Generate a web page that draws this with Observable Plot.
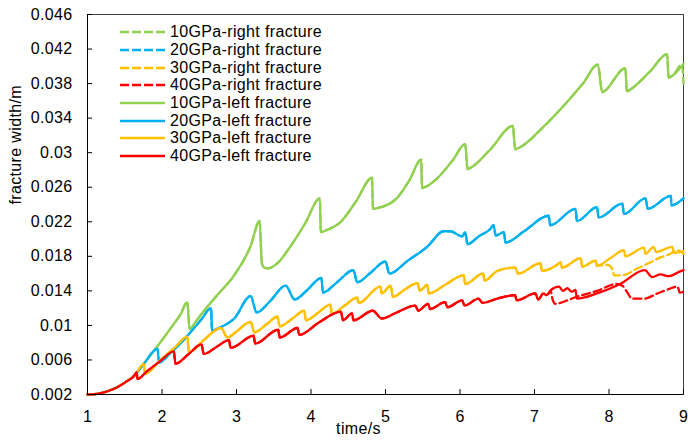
<!DOCTYPE html>
<html>
<head>
<meta charset="utf-8">
<script src="https://cdn.jsdelivr.net/npm/d3@7"></script>
<script src="https://cdn.jsdelivr.net/npm/@observablehq/plot@0.6"></script>
<style>
  body { margin: 0; background: #fff; }
  #wrap { position: relative; width: 688px; height: 444px; font-family: "Liberation Sans", Arial, sans-serif; }
  #wrap svg text { letter-spacing: 0.35px; }
  #legend { position: absolute; left: 120px; top: 23.5px; font-size: 16px; letter-spacing: 0.35px; color: #000; }
  .row { display: flex; align-items: center; height: 17.7px; white-space: nowrap; }
  .row svg { margin-right: 5px; }
</style>
</head>
<body>
<div id="wrap"><div id="legend"></div></div>
<script>
// ---- data (time in s, fracture width in m) ----
const xTicks = [1, 2, 3, 4, 5, 6, 7, 8, 9];
const yTicks = [0.002, 0.006, 0.01, 0.014, 0.018, 0.022, 0.026, 0.03, 0.034, 0.038, 0.042, 0.046];

const commonStart = [[1.00,.00200],[1.13,.00208],[1.27,.00238],[1.40,.00285],[1.54,.00360],[1.63,.00420]];

const left10 = [[1.76,.0056],[1.94,.0076],[2.11,.0096],[2.25,.0113],[2.34,.0127],[2.37,.0096],[2.45,.0104],[2.52,.0112],[2.74,.0135],[2.96,.0157],[3.19,.0192],[3.31,.0221],[3.34,.0172],[3.37,.0167],[3.42,.0166],[3.55,.0172],[3.72,.0191],[3.92,.0218],[4.12,.0247],[4.13,.0208],[4.20,.0210],[4.40,.0220],[4.60,.0243],[4.82,.0271],[4.83,.0235],[4.90,.0236],[5.16,.0248],[5.32,.0268],[5.48,.0292],[5.49,.0259],[5.55,.0261],[5.69,.0270],[5.90,.0291],[6.07,.0310],[6.10,.0281],[6.15,.0283],[6.41,.0304],[6.71,.0331],[6.74,.0304],[6.80,.0306],[7.12,.0330],[7.44,.0359],[7.65,.0380],[7.85,.0402],[7.91,.0370],[7.95,.0372],[8.22,.0398],[8.24,.0371],[8.30,.0374],[8.55,.0394],[8.78,.0414],[8.80,.0387],[8.85,.0389],[9.00,.0403]];
const right10End = [[8.98,.0402],[9.00,.0380]];

const left20 = [[1.76,.0056],[1.94,.0073],[1.96,.0057],[2.10,.0067],[2.20,.0075],[2.34,.0088],[2.52,.0106],[2.66,.0120],[2.67,.0094],[2.79,.0098],[2.97,.0108],[3.19,.0134],[3.27,.0115],[3.45,.0128],[3.66,.0146],[3.78,.0130],[3.95,.0141],[4.14,.0155],[4.16,.0138],[4.35,.0150],[4.57,.0164],[4.62,.0150],[4.80,.0161],[5.00,.0174],[5.05,.0160],[5.30,.0175],[5.56,.0191],[5.78,.0209],[5.87,.0209],[6.03,.0203],[6.07,.0208],[6.10,.0194],[6.25,.0203],[6.41,.0212],[6.45,.0216],[6.48,.0204],[6.59,.0208],[6.61,.0196],[6.86,.0209],[7.19,.0227],[7.21,.0216],[7.55,.0235],[7.57,.0221],[7.84,.0237],[7.86,.0225],[8.18,.0241],[8.20,.0229],[8.49,.0247],[8.52,.0235],[8.83,.0250],[8.84,.0239],[9.00,.0247]];

const left30 = [[1.76,.00555],[1.77,.0044],[1.98,.0060],[2.10,.0069],[2.18,.0075],[2.34,.0087],[2.36,.0069],[2.56,.0083],[2.79,.0097],[2.88,.0086],[3.00,.0093],[3.19,.0104],[3.24,.0092],[3.40,.0101],[3.55,.0110],[3.58,.0099],[3.75,.0108],[3.91,.0117],[3.93,.0106],[4.10,.0115],[4.26,.0124],[4.28,.0113],[4.45,.0123],[4.62,.0132],[4.64,.0126],[4.93,.0145],[4.95,.0137],[5.07,.0146],[5.10,.0133],[5.25,.0141],[5.43,.0149],[5.46,.0140],[5.56,.0147],[5.58,.0137],[5.80,.0147],[6.05,.0158],[6.07,.0148],[6.31,.0160],[6.33,.0152],[6.50,.0163],[6.74,.0167],[6.78,.0160],[7.08,.0172],[7.10,.0163],[7.30,.0170],[7.35,.0173],[7.37,.0167],[7.62,.0178],[7.64,.0168],[7.82,.0175],[7.84,.0169]];
const left30End = [[8.02,.0178],[8.20,.0187],[8.22,.0180],[8.47,.0190],[8.49,.0183],[8.60,.0191],[8.63,.0185],[8.85,.0191],[8.87,.0184],[9.00,.0186]];
const right30End = [[7.98,.0170],[8.04,.0166],[8.07,.0158],[8.18,.0158],[8.36,.0165],[8.53,.0172],[8.70,.0179],[8.80,.0182],[8.92,.0187],[9.00,.0183]];

const left40 = [[1.66,.0046],[1.67,.0038],[1.80,.0047],[1.98,.0059],[2.16,.0070],[2.18,.00555],[2.36,.0067],[2.53,.0078],[2.56,.0067],[2.73,.0075],[2.90,.0083],[2.92,.0074],[3.23,.0088],[3.25,.0079],[3.56,.0095],[3.58,.0086],[3.82,.0097],[3.84,.0089],[4.10,.0103],[4.40,.0116],[4.43,.0106],[4.55,.0114],[4.57,.0106],[4.83,.0117],[4.95,.0108],[5.15,.0115],[5.40,.0123],[5.44,.0117],[5.57,.0125],[5.60,.0119],[5.80,.0127],[5.83,.0121],[6.03,.0129],[6.06,.0123],[6.25,.0131],[6.30,.0126],[6.50,.0131],[6.74,.0135],[6.76,.0129],[7.01,.0137],[7.05,.0130],[7.12,.0137],[7.16,.0135]];
const left40End = [[7.22,.0141],[7.33,.0145],[7.38,.0140],[7.44,.0143],[7.50,.0139],[7.55,.0141],[7.57,.0131],[7.84,.0137],[8.15,.0148],[8.48,.0164],[8.58,.0156],[8.69,.0159],[8.80,.0157],[8.94,.0162],[9.00,.0164]];
const right40End = [[7.22,.0139],[7.24,.0131],[7.28,.0125],[7.44,.0129],[7.53,.0132],[7.84,.0140],[8.10,.0148],[8.18,.0146],[8.24,.0139],[8.31,.0131],[8.47,.0131],[8.65,.0137],[8.80,.0142],[8.92,.0145],[8.95,.0138],[9.00,.0139]];

const colors = { g10: "#92D050", g20: "#00B0F0", g30: "#FFC000", g40: "#FF0000" };
const legendLabels = ["10GPa-right fracture","20GPa-right fracture","30GPa-right fracture","40GPa-right fracture","10GPa-left fracture","20GPa-left fracture","30GPa-left fracture","40GPa-left fracture"];

// ---- series assembly ----
const L10 = commonStart.concat(left10);
const R10 = commonStart.concat(left10.filter(d => d[0] <= 8.85), right10End);
const L20 = commonStart.concat(left20);
const R20 = L20;
const L30 = commonStart.concat(left30, left30End);
const R30 = commonStart.concat(left30, right30End);
const L40 = commonStart.concat(left40, left40End);
const R40 = commonStart.concat(left40, right40End);

const series = [
  {d: R10, c: colors.g10, dash: true}, {d: R20, c: colors.g20, dash: true},
  {d: R30, c: colors.g30, dash: true}, {d: R40, c: colors.g40, dash: true},
  {d: L10, c: colors.g10, dash: false}, {d: L20, c: colors.g20, dash: false},
  {d: L30, c: colors.g30, dash: false}, {d: L40, c: colors.g40, dash: false}
];

const font = "Liberation Sans, Arial, sans-serif";
const lineMarks = series.map(s => Plot.line(s.d, {
  x: d => d[0], y: d => d[1], stroke: s.c, strokeWidth: 2.3,
  strokeDasharray: s.dash ? "8,4" : null, curve: "monotone-x", strokeLinejoin: "round"
}));

const chart = Plot.plot({
  width: 688, height: 444,
  marginLeft: 87, marginRight: 5, marginTop: 14, marginBottom: 50,
  style: { fontFamily: font, fontSize: "16px", color: "#000", background: "#fff" },
  x: { domain: [1, 9] },
  y: { domain: [0.002, 0.046] },
  marks: [
    Plot.frame({ stroke: "#404040", strokeWidth: 1 }),
    ...lineMarks,
    Plot.axisX({ ticks: xTicks, tickSize: 5, dy: -5, tickFormat: () => "", label: null, stroke: "#000" }),
    Plot.axisY({ ticks: yTicks, tickSize: 5, dx: 5, tickFormat: () => "", label: null, stroke: "#000" }),
    Plot.axisX({ ticks: xTicks, tickSize: 0, tickPadding: 16, tickFormat: d => String(d), label: null, fontSize: 16, fill: "#000" }),
    Plot.axisY({ ticks: yTicks, tickSize: 0, tickPadding: 15, tickFormat: d => String(+d.toFixed(3)), label: null, fontSize: 16, fill: "#000" }),
    Plot.ruleX([1], { stroke: "#000", strokeWidth: 1 }),
    Plot.ruleY([0.002], { stroke: "#000", strokeWidth: 1 }),
    Plot.text(["time/s"], { frameAnchor: "bottom", dx: -27, dy: 39, fontSize: 16, fill: "#000" }),
    Plot.text(["fracture width/m"], { frameAnchor: "left", dx: -72, rotate: -90, fontSize: 16, fill: "#000" })
  ]
});
const wrap = document.getElementById("wrap");
wrap.insertBefore(chart, wrap.firstChild);

// ---- legend ----
const lg = document.getElementById("legend");
series.forEach((s, i) => {
  const row = document.createElement("div");
  row.className = "row";
  row.innerHTML = `<svg width="45" height="6"><line x1="0" y1="3" x2="45" y2="3" stroke="${s.c}" stroke-width="2.3" ${s.dash ? 'stroke-dasharray="9,3"' : ''}/></svg><span>${legendLabels[i]}</span>`;
  lg.appendChild(row);
});
</script>
</body>
</html>
